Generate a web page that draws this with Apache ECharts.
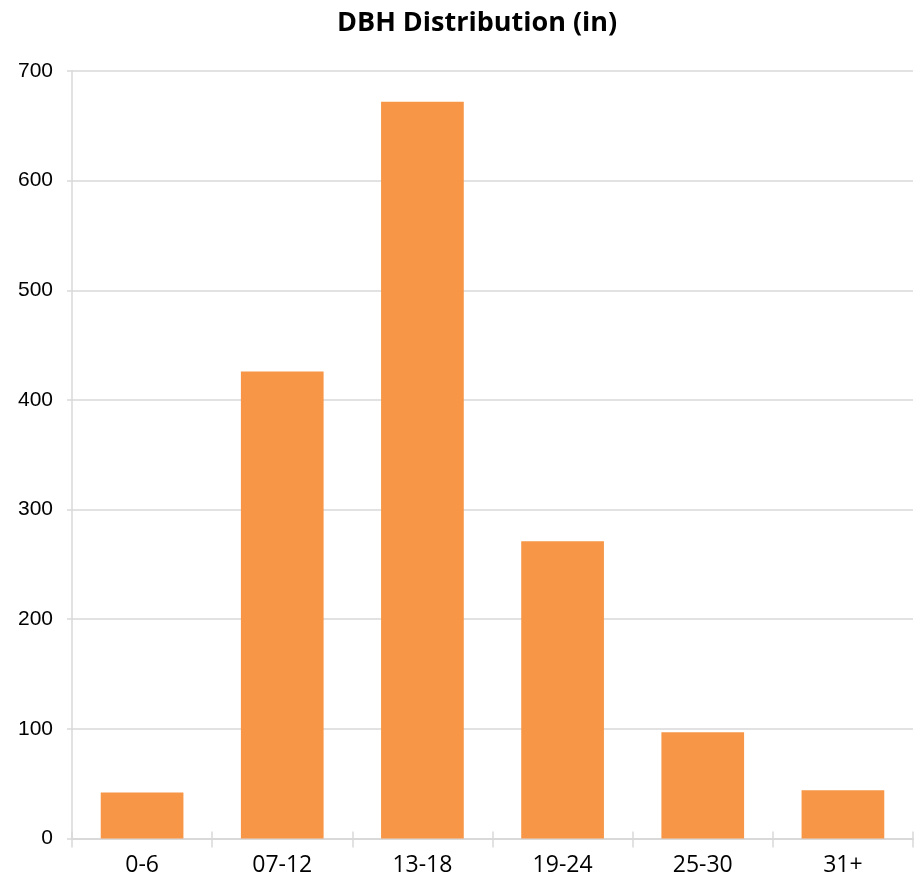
<!DOCTYPE html>
<html>
<head>
<meta charset="utf-8">
<title>DBH Distribution (in)</title>
<script src="https://cdn.jsdelivr.net/npm/echarts@6/dist/echarts.min.js"></script>
<style>
  html, body { margin: 0; padding: 0; background: #ffffff; }
  #chart { width: 915px; height: 885px; }
</style>
</head>
<body>
<div id="chart"></div>
<script>
// DBH classes (inches) and tree counts per class
const categories = ['0-6', '07-12', '13-18', '19-24', '25-30', '31+'];
const treeCounts = [42, 426, 672, 271, 97, 44];
const yTicks = { min: 0, max: 700, interval: 100 };

const gridColor = '#d9d9d9';
const barColor = '#f79646';

const chart = echarts.init(document.getElementById('chart'), null, { renderer: 'canvas' });

const baseX = {
  type: 'category',
  data: categories,
  position: 'bottom',
  boundaryGap: true,
  axisLine: { show: true, lineStyle: { color: gridColor, width: 1.5 } },
  splitLine: { show: false }
};

chart.setOption({
  animation: false,
  backgroundColor: '#ffffff',
  title: {
    text: 'DBH Distribution (in)',
    left: 332,
    top: 5,
    textStyle: {
      fontFamily: 'Open Sans',
      fontWeight: 'bold',
      fontSize: 27,
      color: '#000000'
    }
  },
  grid: { left: 72, right: 2, top: 71, bottom: 46.5, containLabel: false },
  xAxis: [
    Object.assign({}, baseX, {
      axisTick: { show: true, inside: false, length: 9, alignWithLabel: false,
                  lineStyle: { color: gridColor, width: 1.5 } },
      axisLabel: { show: true, margin: 15, color: '#000000',
                   fontFamily: 'Open Sans', fontSize: 23 }
    }),
    Object.assign({}, baseX, {
      axisTick: { show: true, inside: true, length: 7,
                  lineStyle: { color: gridColor, width: 1.5 } },
      axisLabel: { show: false }
    })
  ],
  yAxis: {
    type: 'value',
    min: yTicks.min,
    max: yTicks.max,
    interval: yTicks.interval,
    axisLine: { show: true, lineStyle: { color: gridColor, width: 1.5 } },
    axisTick: { show: true, length: 5, lineStyle: { color: gridColor, width: 1.5 } },
    splitLine: { show: true, lineStyle: { color: gridColor, width: 1.5 } },
    axisLabel: { margin: 19, color: '#000000', fontFamily: 'Liberation Sans', fontSize: 21 }
  },
  series: [{
    type: 'bar',
    name: 'Trees',
    xAxisIndex: 0,
    data: treeCounts,
    barWidth: '59%',
    itemStyle: { color: barColor },
    z: 3
  }]
});
</script>
</body>
</html>
